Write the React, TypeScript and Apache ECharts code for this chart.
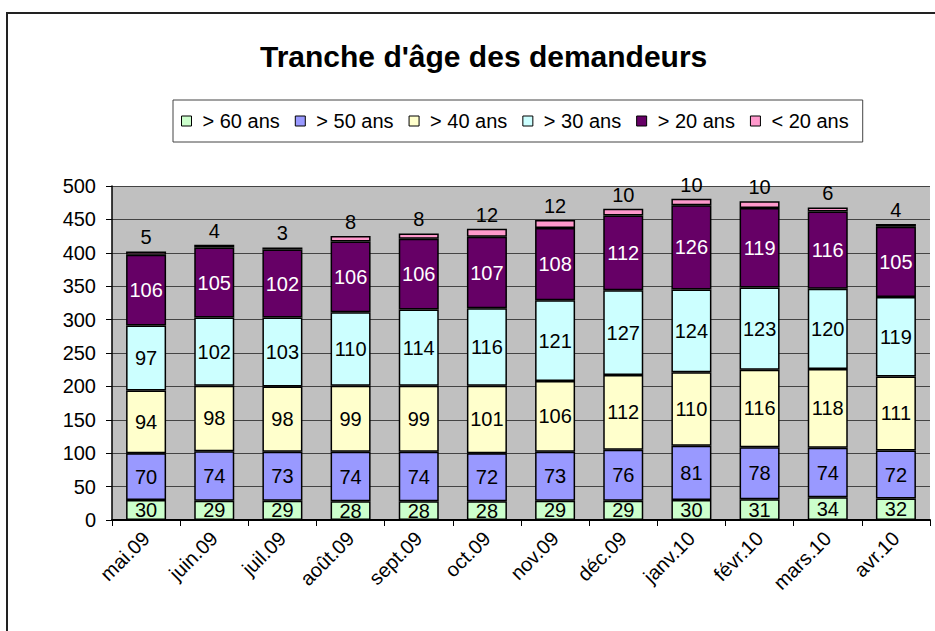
import React, { useEffect, useRef } from "react";
import * as echarts from "echarts";

const categories = ["mai.09", "juin.09", "juil.09", "août.09", "sept.09", "oct.09", "nov.09", "déc.09", "janv.10", "févr.10", "mars.10", "avr.10"];
const seriesNames = ["> 60 ans", "> 50 ans", "> 40 ans", "> 30 ans", "> 20 ans", "< 20 ans"];
const over60 = [30, 29, 29, 28, 28, 28, 29, 29, 30, 31, 34, 32];
const over50 = [70, 74, 73, 74, 74, 72, 73, 76, 81, 78, 74, 72];
const over40 = [94, 98, 98, 99, 99, 101, 106, 112, 110, 116, 118, 111];
const over30 = [97, 102, 103, 110, 114, 116, 121, 127, 124, 123, 120, 119];
const over20 = [106, 105, 102, 106, 106, 107, 108, 112, 126, 119, 116, 105];
const under20 = [5, 4, 3, 8, 8, 12, 12, 10, 10, 10, 6, 4];
const yTicks = { min: 0, max: 500, interval: 50 };

const colors = ["#CCFFCC", "#9999FF", "#FFFFCC", "#CCFFFF", "#660066", "#FF99CC"];
const labelColors = ["#000", "#000", "#000", "#000", "#fff", "#000"];
const FONT = "'Liberation Sans', Arial, sans-serif";

export default function App() {
  const ref = useRef<HTMLDivElement>(null);
  useEffect(() => {
    if (!ref.current) return;
    const chart = echarts.init(ref.current, null, { renderer: "svg" });
    const data = [over60, over50, over40, over30, over20, under20];
    const series = data.map((d, i) => ({
      name: seriesNames[i],
      type: "bar",
      stack: "total",
      barWidth: 40,
      data: d,
      itemStyle: { color: colors[i], borderColor: "#000", borderWidth: 1.5 },
      label: {
        show: true,
        position: i === 5 ? "top" : "inside",
        distance: 4,
        color: labelColors[i],
        fontSize: 20,
        fontFamily: FONT,
      },
    }));
    chart.setOption({
      animation: false,
      backgroundColor: "#fff",
      textStyle: { fontFamily: FONT },
      title: {
        text: "Tranche d'âge des demandeurs",
        left: 255,
        top: 36,
        textStyle: { fontSize: 30, fontWeight: "bold", color: "#000", fontFamily: FONT },
      },
      legend: {
        data: seriesNames,
        left: 173,
        top: 100,
        orient: "horizontal",
        icon: "rect",
        itemWidth: 10,
        itemHeight: 10,
        itemGap: 15,
        padding: [11, 14, 11, 8],
        borderColor: "#444",
        borderWidth: 1,
        backgroundColor: "#fff",
        itemStyle: { borderColor: "#000", borderWidth: 1 },
        textStyle: { fontSize: 20, color: "#000", fontFamily: FONT, padding: [0, 0, 0, 6] },
      },
      grid: {
        left: 112,
        right: 5,
        top: 186,
        bottom: 111,
        show: true,
        backgroundColor: "#C0C0C0",
        borderWidth: 0,
      },
      xAxis: {
        type: "category",
        data: categories,
        axisLine: { lineStyle: { color: "#000", width: 2 } },
        axisTick: { show: true, length: 6, alignWithLabel: false, lineStyle: { color: "#000" } },
        axisLabel: { rotate: 45, fontSize: 20, color: "#000", margin: 15, fontFamily: FONT, interval: 0 },
      },
      yAxis: {
        type: "value",
        min: yTicks.min,
        max: yTicks.max,
        interval: yTicks.interval,
        axisLine: { show: true, lineStyle: { color: "#000", width: 1.5 } },
        axisTick: { show: true, length: 6, lineStyle: { color: "#000" } },
        axisLabel: { fontSize: 20, color: "#000", margin: 16, fontFamily: FONT },
        splitLine: { show: true, lineStyle: { color: "#444", width: 1 } },
      },
      graphic: [
        {
          type: "rect",
          shape: { x: 7, y: 13, width: 960, height: 660 },
          style: { fill: "none", stroke: "#222", lineWidth: 2 },
          silent: true,
          z: 100,
        },
      ],
      series,
    });
    return () => chart.dispose();
  }, []);
  return <div ref={ref} style={{ position: "fixed", left: 0, top: 0, width: 935, height: 631 }} />;
}
